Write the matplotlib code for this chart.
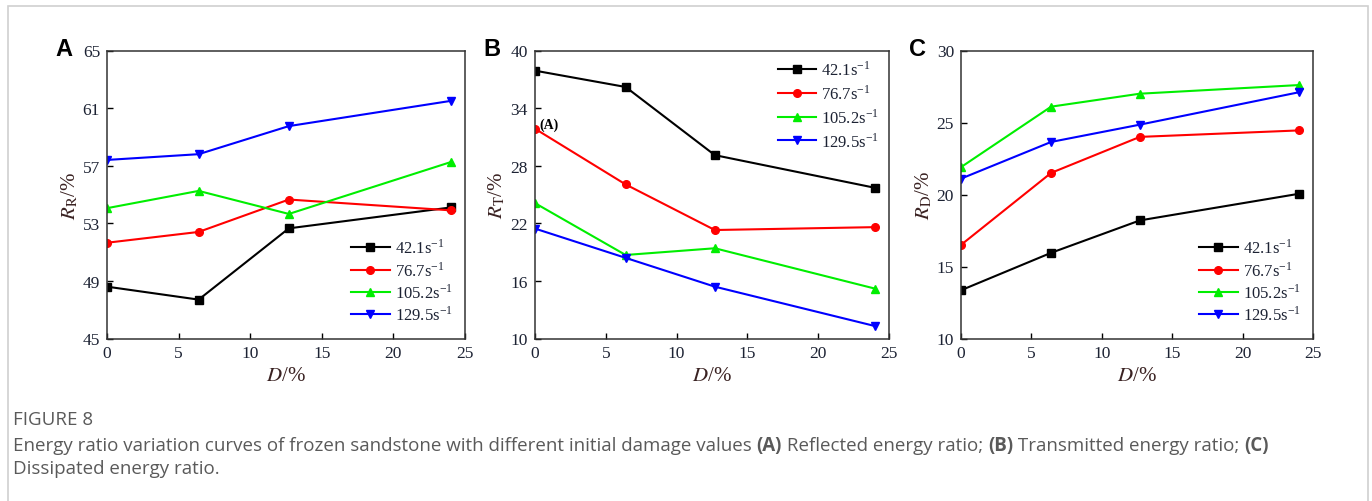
import numpy as np
import matplotlib
matplotlib.use("Agg")
import matplotlib.pyplot as plt
from matplotlib.patches import Rectangle

# ==========================================
# Data
# ==========================================
damage = [0, 6.4, 12.7, 24]
rates = ["42.1", "76.7", "105.2", "129.5"]

# A: reflected energy ratio
rr_421 = [48.6, 47.7, 52.65, 54.1]
rr_767 = [51.65, 52.4, 54.65, 53.9]
rr_1052 = [54.05, 55.25, 53.65, 57.25]
rr_1295 = [57.4, 57.8, 59.75, 61.5]

# B: transmitted energy ratio
rt_421 = [37.9, 36.2, 29.1, 25.7]
rt_767 = [31.85, 26.05, 21.3, 21.6]
rt_1052 = [24.1, 18.7, 19.4, 15.2]
rt_1295 = [21.45, 18.4, 15.4, 11.3]

# C: dissipated energy ratio
rd_421 = [13.35, 15.95, 18.2, 20.05]
rd_767 = [16.5, 21.5, 24.0, 24.45]
rd_1052 = [21.9, 26.1, 27.0, 27.6]
rd_1295 = [21.1, 23.65, 24.85, 27.1]

panels = [
    ("A", r"$R_{\mathrm{R}}$/%", [rr_421, rr_767, rr_1052, rr_1295], (45, 65), [45, 49, 53, 57, 61, 65], "lower right"),
    ("B", r"$R_{\mathrm{T}}$/%", [rt_421, rt_767, rt_1052, rt_1295], (10, 40), [10, 16, 22, 28, 34, 40], "upper right"),
    ("C", r"$R_{\mathrm{D}}$/%", [rd_421, rd_767, rd_1052, rd_1295], (10, 30), [10, 15, 20, 25, 30], "lower right"),
]

colors = ["#000000", "#ff0000", "#00ee00", "#0000ff"]
markers = ["s", "o", "^", "v"]

# ==========================================
# Style
# ==========================================
plt.rcParams["font.family"] = ["Liberation Serif", "DejaVu Serif"]
plt.rcParams["mathtext.fontset"] = "stix"

fig = plt.figure(figsize=(13.72, 5.02), dpi=100)

# light frame around the figure
fig.patches.append(Rectangle((8 / 1372, -0.05), 1360 / 1372, 1.05 - 6.5 / 502,
                             transform=fig.transFigure, fill=False,
                             edgecolor="#d0d0d0", lw=1.2))

lefts = [107, 535, 961]
rights = [465, 889, 1313]
top, bottom = 51.5, 339.5
tick_col = "#1c2233"
lab_col = "#3a2222"

for (letter, ylab, series, ylim, yticks, loc), l, r in zip(panels, lefts, rights):
    ax = fig.add_axes([l / 1372, 1 - bottom / 502, (r - l) / 1372, (bottom - top) / 502])
    for vals, c, m, rate in zip(series, colors, markers, rates):
        ax.plot(damage, vals, color=c, marker=m, ms=5.5, lw=1.5,
                label=rate + r"s$^{\mathregular{-1}}$")
    ax.set_xlim(0, 25)
    ax.set_ylim(*ylim)
    ax.set_xticks([0, 5, 10, 15, 20, 25])
    ax.set_yticks(yticks)
    ax.tick_params(direction="in", length=4, width=1, labelsize=12.5,
                   labelcolor=tick_col, pad=5)
    for s in ax.spines.values():
        s.set_linewidth(1.1)
        s.set_color("#333333")
    ax.set_xlabel(r"$D$/%", fontsize=15, color=lab_col, labelpad=3)
    ax.set_ylabel(ylab, fontsize=15, color=lab_col, labelpad=2)
    if loc == "lower right":
        leg = ax.legend(loc="lower right", bbox_to_anchor=(0.993, 0.015), frameon=False,
                        fontsize=12, handlelength=2.3, handletextpad=0.3,
                        labelspacing=0.22, borderaxespad=0.2)
    else:
        leg = ax.legend(loc="upper right", bbox_to_anchor=(1.0, 1.0), frameon=False,
                        fontsize=12, handlelength=2.3, handletextpad=0.3,
                        labelspacing=0.3, borderaxespad=0.2)
    for t in leg.get_texts():
        t.set_color(tick_col)
    fig.text((l - 52) / 1372, 1 - 49 / 502, letter, fontsize=17, fontweight="bold",
             family="Liberation Sans", ha="left", va="center")
    if letter == "B":
        ax.annotate("(A)", xy=(damage[0], rt_767[0]), xytext=(3, 3),
                    textcoords="offset points", fontsize=10, fontweight="bold",
                    ha="left", va="center")

# ==========================================
# Caption
# ==========================================
cap_col = "#5a5a5a"
cap_kw = dict(family=["Open Sans", "DejaVu Sans"], fontsize=13.5, color=cap_col)
fig.text(13 / 1372, 1 - 420 / 502, "FIGURE 8", va="center", ha="left", **cap_kw)

pieces = [
    ("Energy ratio variation curves of frozen sandstone with different initial damage values ", "normal"),
    ("(A)", "bold"),
    (" Reflected energy ratio; ", "normal"),
    ("(B)", "bold"),
    (" Transmitted energy ratio; ", "normal"),
    ("(C)", "bold"),
]
prev = fig.text(13 / 1372, 1 - 446 / 502, pieces[0][0], va="center", ha="left", **cap_kw)
for txt, w in pieces[1:]:
    prev = plt.annotate(txt, xy=(1, 0.5), xycoords=prev, va="center", ha="left",
                        fontweight=w, annotation_clip=False, **cap_kw)
fig.text(13 / 1372, 1 - 469 / 502, "Dissipated energy ratio.", va="center", ha="left", **cap_kw)

fig.savefig("out.png", dpi=100)
